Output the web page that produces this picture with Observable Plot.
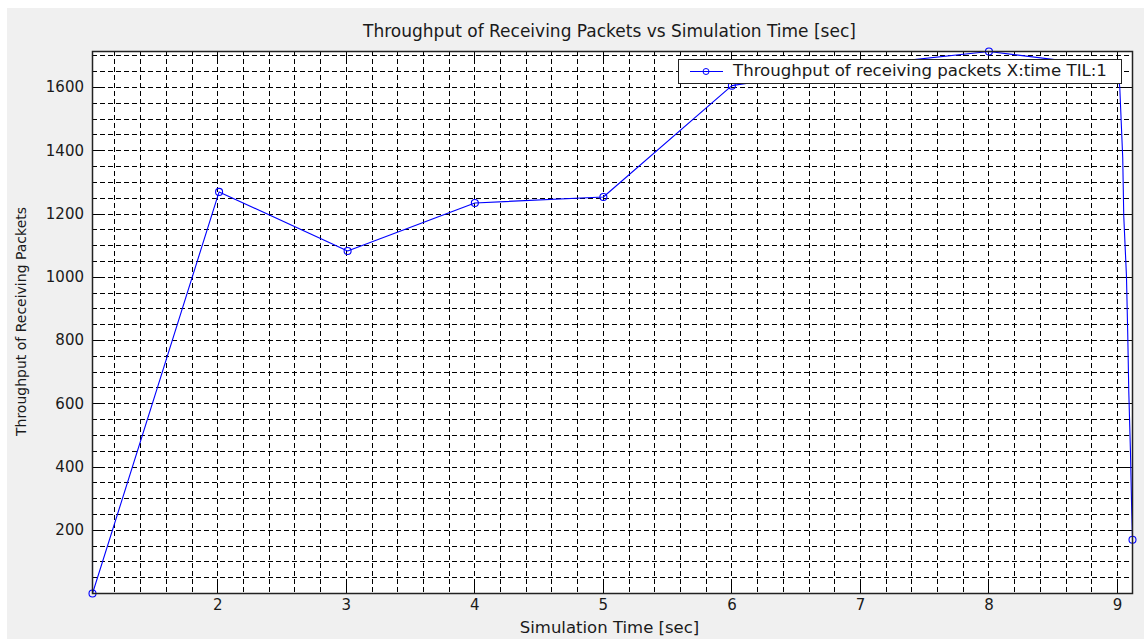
<!DOCTYPE html>
<html><head><meta charset="utf-8">
<script src="https://cdn.jsdelivr.net/npm/d3@7"></script>
<script src="https://cdn.jsdelivr.net/npm/@observablehq/plot@0.6"></script>
<style>
html,body{margin:0;padding:0;background:#fff;width:1144px;height:639px;overflow:hidden;}
#bg{position:absolute;left:7px;top:8px;width:1137px;height:631px;background:#f0f0f0;}
#chart{position:absolute;left:0;top:0;}
#legend{position:absolute;left:678px;top:59px;width:444px;height:25px;box-sizing:border-box;border:1px solid #222;background:#fff;font-family:"DejaVu Sans";font-size:16.6px;color:#1a1a1a;}
#legend svg{position:absolute;left:0;top:0;}
#legend span{position:absolute;left:54px;top:1px;white-space:nowrap;line-height:20px;}
</style></head>
<body><div id="bg"></div><div id="chart"></div><div id="legend"></div>
<script>
const titleText = "Throughput of Receiving Packets vs Simulation Time [sec]";
const xLabelText = "Simulation Time [sec]";
const yLabelText = "Throughput of Receiving Packets";
const seriesName = "Throughput of receiving packets X:time TIL:1";

// marked samples
const sampleTime = [1.025, 2.01, 3.01, 4.0, 5.0, 6.0, 7.0, 8.0, 9.0, 9.117];
const sampleThroughput = [0, 1270, 1083, 1235, 1254, 1606, 1670, 1714, 1664, 170];
// final drop (unmarked samples)
const dropTime = [9.018, 9.041, 9.049, 9.070, 9.080, 9.088, 9.101, 9.111];
const dropThroughput = [1600, 1377, 1193, 1004, 820, 640, 450, 260];

const xTickLabels = [2, 3, 4, 5, 6, 7, 8, 9];
const yTickLabels = [200, 400, 600, 800, 1000, 1200, 1400, 1600];

const marked = sampleTime.map((t, i) => ({t, v: sampleThroughput[i]}));
const drop = dropTime.map((t, i) => ({t, v: dropThroughput[i]}));
const points = marked.concat(drop).sort((a, b) => a.t - b.t);

const xGrid = d3.range(6, 46).map(i => i / 5);
const yGrid = d3.range(1, 35).map(i => i * 50);

const W = 1144, H = 639, mL = 92, mR = 12, mT = 51, mB = 46;
const fw = W - mL - mR, fh = H - mT - mB;
const ink = "#1a1a1a";
const blue = "#0000ff";

const chart = Plot.plot({
  width: W, height: H,
  marginLeft: mL, marginRight: mR, marginTop: mT, marginBottom: mB,
  x: {domain: d3.extent(points, d => d.t)},
  y: {domain: d3.extent(points, d => d.v)},
  style: {fontFamily: "DejaVu Sans", fontSize: "15px", background: "transparent", color: ink, overflow: "visible"},
  marks: [
    Plot.frame({fill: "#fff", stroke: null}),
    Plot.ruleX(xGrid, {stroke: "#000", strokeDasharray: "5,3", strokeWidth: 1, shapeRendering: "crispEdges"}),
    Plot.ruleY(yGrid, {stroke: "#000", strokeDasharray: "5,3", strokeWidth: 1, shapeRendering: "crispEdges"}),
    Plot.ruleX(xTickLabels, {stroke: "#000", insetTop: fh - 10, shapeRendering: "crispEdges"}),
    Plot.ruleX(xTickLabels, {stroke: "#000", insetBottom: fh - 9, shapeRendering: "crispEdges"}),
    Plot.ruleY(yTickLabels, {stroke: "#000", insetRight: fw - 11, shapeRendering: "crispEdges"}),
    Plot.ruleY(yTickLabels, {stroke: "#000", insetLeft: fw - 11, shapeRendering: "crispEdges"}),
    Plot.line(points, {x: "t", y: "v", stroke: blue, strokeWidth: 1.1}),
    Plot.dot(marked, {x: "t", y: "v", r: 3.5, stroke: blue, fill: "none", strokeWidth: 1.1}),
    Plot.frame({stroke: "#222", strokeWidth: 1.5}),
    Plot.axisX(xTickLabels, {tickSize: 0, tickPadding: 6, label: null, fill: ink, fontSize: 15, tickFormat: d => String(d)}),
    Plot.axisY(yTickLabels, {tickSize: 0, tickPadding: 8.5, label: null, fill: ink, fontSize: 15, tickFormat: d => String(d)}),
    Plot.text([titleText], {frameAnchor: "top", text: d => d, dy: -20, dx: -3, textAnchor: "middle", lineAnchor: "middle", fontSize: 17, fill: ink}),
    Plot.text([xLabelText], {frameAnchor: "bottom", text: d => d, dy: 34.5, dx: -3, textAnchor: "middle", lineAnchor: "middle", fontSize: 16.5, fill: ink}),
    Plot.text([yLabelText], {frameAnchor: "left", text: d => d, dx: -71, dy: -1, rotate: -90, textAnchor: "middle", lineAnchor: "middle", fontSize: 14, fill: ink})
  ]
});
document.getElementById("chart").appendChild(chart);

const legend = document.getElementById("legend");
legend.innerHTML = `<svg width="444" height="25"><line x1="11" y1="11.5" x2="44" y2="11.5" stroke="${blue}" stroke-width="1"/><circle cx="27" cy="11.5" r="3" fill="none" stroke="${blue}" stroke-width="1"/></svg><span></span>`;
legend.querySelector("span").textContent = seriesName;
</script>
</body></html>
